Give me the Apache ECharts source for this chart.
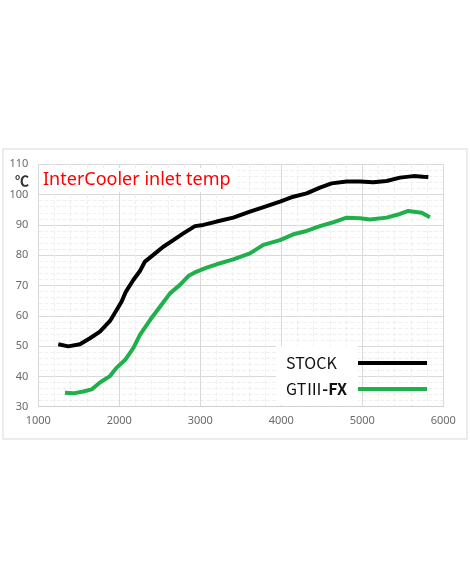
<!DOCTYPE html>
<html>
<head>
<meta charset="utf-8">
<script src="https://cdn.jsdelivr.net/npm/echarts@6/dist/echarts.min.js"></script>
<style>
html,body{margin:0;padding:0;background:#fff;}
#c{width:470px;height:588px;}
</style>
</head>
<body>
<div id="c"></div>
<script>
var stockRpm = [1247,1370,1514,1638,1761,1885,1967,2029,2082,2173,2255,2317,2420,2543,2667,2790,2934,3037,3202,3407,3613,3819,3984,4148,4313,4477,4621,4807,4971,5136,5300,5465,5630,5753,5815];
var stockTemp = [50.6,49.9,50.6,52.6,54.8,58.3,61.9,64.7,68.0,71.8,74.8,77.9,80.1,82.8,85.0,87.2,89.6,90.0,91.1,92.4,94.4,96.2,97.7,99.3,100.4,102.3,103.7,104.3,104.3,104.1,104.5,105.6,106.1,105.9,105.8];
var fxRpm = [1329,1432,1556,1658,1761,1885,1967,2070,2173,2255,2379,2502,2626,2749,2852,2955,3078,3202,3407,3613,3778,3984,4148,4313,4477,4621,4807,4971,5095,5300,5465,5568,5733,5835];
var fxTemp = [34.6,34.4,35.0,35.7,38.0,40.1,42.9,45.4,49.3,53.7,58.6,63.0,67.4,70.2,73.1,74.6,75.9,77.0,78.6,80.6,83.4,85.0,86.9,88.0,89.6,90.7,92.4,92.2,91.8,92.4,93.6,94.6,94.0,92.5];
var seriesNames = ['STOCK','GTⅢ-FX'];
var xTicks = [1000,2000,3000,4000,5000,6000];
var yTicks = [30,40,50,60,70,80,90,100,110];

function pairs(xs, ys){ return xs.map(function(x,i){ return [x, ys[i]]; }); }

var chart = echarts.init(document.getElementById('c'), null, {renderer:'canvas'});
var fontFam = '"Noto Sans", "Noto Sans CJK JP", sans-serif';
var cjk = '"Noto Sans CJK JP", "Noto Sans", sans-serif';
chart.setOption({
  animation:false,
  backgroundColor:'#fff',
  textStyle:{fontFamily:fontFam},
  grid:{left:38.3, right:26.7, top:164.3, bottom:181.3, containLabel:false},
  xAxis:{
    type:'value', min:xTicks[0], max:xTicks[xTicks.length-1], interval:1000,
    axisLine:{show:true, lineStyle:{color:'#d0d0d0', width:1}},
    axisTick:{show:false},
    axisLabel:{color:'#6a6a6a', fontSize:11, margin:9, fontFamily:fontFam, formatter:function(v){return String(v);}},
    splitLine:{show:true, lineStyle:{color:'#d9d9d9', width:1}},
    minorTick:{show:false, splitNumber:5},
    minorSplitLine:{show:true, lineStyle:{color:'#efefef', width:1, type:'dashed'}}
  },
  yAxis:{
    type:'value', min:yTicks[0], max:yTicks[yTicks.length-1], interval:10,
    axisLine:{show:false},
    axisTick:{show:false},
    axisLabel:{color:'#6a6a6a', fontSize:11, margin:10, fontFamily:fontFam, formatter:function(v){return String(v);}},
    splitLine:{show:true, lineStyle:{color:'#d9d9d9', width:1}},
    minorTick:{show:false, splitNumber:5},
    minorSplitLine:{show:true, lineStyle:{color:'#efefef', width:1, type:'dashed'}}
  },
  legend:{
    orient:'vertical', left:286, top:354, align:'right', padding:0,
    icon:'rect', itemWidth:69, itemHeight:4, itemGap:8,
    data:seriesNames,
    formatter:function(n){ return n==='GTⅢ-FX' ? '{n|GTⅢ}{b|-FX}' : '{n|'+n+'}'; },
    textStyle:{
      width:67, fontSize:16, lineHeight:18, color:'#111',
      rich:{
        n:{fontSize:16, color:'#111', fontFamily:cjk, lineHeight:18, align:'left'},
        b:{fontSize:16, color:'#111', fontWeight:'bold', fontFamily:cjk, lineHeight:18, align:'left'}
      }
    }
  },
  graphic:[
    {type:'rect', shape:{x:3, y:149, width:464, height:290}, style:{fill:'none', stroke:'#d9d9d9', lineWidth:1}, z:-1, silent:true},
    {type:'rect', shape:{x:39, y:168, width:198, height:24}, style:{fill:'#fff'}, z:1},
    {type:'text', x:43, y:180, style:{text:'InterCooler inlet temp', fill:'#ff0000', fontSize:18, fontFamily:fontFam, verticalAlign:'middle'}, z:2},
    {type:'text', x:22, y:181, style:{text:'℃', fill:'#333', fontSize:14, fontWeight:'bold', fontFamily:cjk, align:'center', verticalAlign:'middle'}, z:2},
    {type:'rect', shape:{x:276, y:346, width:82, height:59}, style:{fill:'#fff'}, z:1}
  ],
  series:[
    {name:seriesNames[0], type:'line', data:pairs(stockRpm, stockTemp), showSymbol:false, symbol:'none', smooth:false,
     lineStyle:{color:'#000', width:4}, itemStyle:{color:'#000'}, z:3},
    {name:seriesNames[1], type:'line', data:pairs(fxRpm, fxTemp), showSymbol:false, symbol:'none', smooth:false,
     lineStyle:{color:'#1fb04b', width:4}, itemStyle:{color:'#1fb04b'}, z:3}
  ]
});
</script>
</body>
</html>
